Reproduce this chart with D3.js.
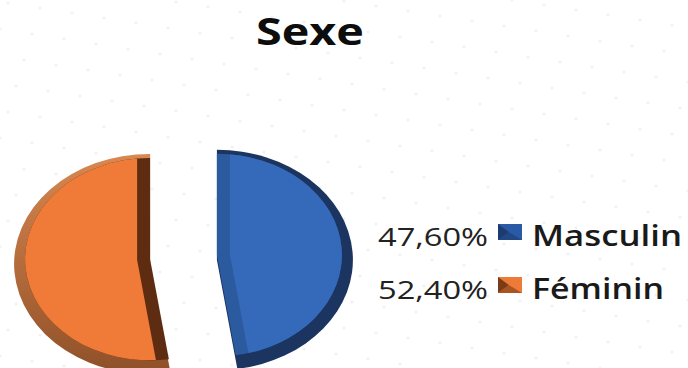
<!DOCTYPE html>
<html><head><meta charset="utf-8">
<script src="https://cdn.jsdelivr.net/npm/d3@7"></script>
<style>html,body{margin:0;padding:0;background:#fff;}svg{display:block;}</style>
</head><body>
<script>
const title = "Sexe";
const categories = ["Masculin", "Féminin"];
const values = [47.6, 52.4];
const valueLabels = ["47,60%", "52,40%"];

const W = 688, H = 368;
const svg = d3.select("body").append("svg").attr("width", W).attr("height", H);

// faint dotted background
const bg = svg.append("g");
for (let i = -10; i < 30; i++) for (let j = -10; j < 25; j++) {
  const x = 8 + i * 32 - j * 8, y = 3 + i * 5 + j * 26;
  if (x > -2 && x < W + 2 && y > -2 && y < H + 2)
    bg.append("circle").attr("cx", x).attr("cy", y).attr("r", 1.6).attr("fill", "#f1f1f3");
}

const defs = svg.append("defs");
const og = defs.append("linearGradient").attr("id", "orim").attr("x1", 0).attr("y1", 0).attr("x2", 0).attr("y2", 1);
og.append("stop").attr("offset", "0%").attr("stop-color", "#d98850");
og.append("stop").attr("offset", "100%").attr("stop-color", "#8f5028");

const styles = [
  {rim: "#1b3560", band: "#2c5a9e", face: "#3569b9", swA: "#2a5aa6", swB: "#1c3c70"},
  {rim: "url(#orim)", band: "#5e2c10", face: "#f07b39", swA: "#ee7a38", swB: "#7a3c16"}
];

const R = 136, k = 0.81, rim = 11, lift = 6, band = 13, explode = 33.5;
const cx = 183.5, cy = 262;
const pie = d3.pie().sort(null).value(d => d);
const arcs = pie(values);

const g = svg.append("g").attr("transform", `translate(${cx},${cy}) scale(1,${k})`);
arcs.forEach((a, i) => {
  const mid = (a.startAngle + a.endAngle) / 2;
  const ox = Math.sin(mid) * explode, oy = -Math.cos(mid) * explode;
  const sg = g.append("g").attr("transform", `translate(${ox},${oy})`);
  const full = d3.arc().innerRadius(0).outerRadius(R)(a);
  const inner = d3.arc().innerRadius(0).outerRadius(R - rim)(a);
  sg.append("path").attr("d", full).attr("fill", styles[i].rim);
  const cid = "clip" + i;
  defs.append("clipPath").attr("id", cid).append("path").attr("d", inner).attr("transform", `translate(0,${-lift})`);
  sg.append("path").attr("d", inner).attr("transform", `translate(0,${-lift})`).attr("fill", styles[i].band);
  const bx = Math.sin(mid) * band, by = -Math.cos(mid) * band;
  sg.append("g").attr("clip-path", `url(#${cid})`)
    .append("path").attr("d", inner).attr("fill", styles[i].face)
    .attr("transform", `translate(${bx},${by - lift})`);
});

// title
svg.append("text").attr("x", 310).attr("y", 45).attr("text-anchor", "middle")
  .attr("font-family", "Open Sans").attr("font-weight", "bold").attr("font-size", 38)
  .attr("fill", "#0d0d0d").attr("textLength", 108).attr("lengthAdjust", "spacingAndGlyphs").text(title);

// legend
const legY = [246, 299];
categories.forEach((c, i) => {
  const y = legY[i];
  svg.append("text").attr("x", 378).attr("y", y)
    .attr("font-family", "Open Sans").attr("font-size", 26).attr("fill", "#222")
    .attr("textLength", 110).attr("lengthAdjust", "spacingAndGlyphs").text(valueLabels[i]);
  const sx = 498, sy = y - 22, sw = 24, sh = 16;
  svg.append("rect").attr("x", sx).attr("y", sy).attr("width", sw).attr("height", sh).attr("fill", styles[i].swA);
  svg.append("polygon").attr("points", `${sx},${sy} ${sx + sw * 0.45},${sy + sh / 2} ${sx},${sy + sh}`).attr("fill", styles[i].swB);
  svg.append("polygon").attr("points", `${sx},${sy + sh} ${sx + sw * 0.45},${sy + sh / 2} ${sx + sw},${sy + sh}`).attr("fill", styles[i].swB).attr("opacity", 0.6);
  svg.append("text").attr("x", 532).attr("y", y)
    .attr("font-family", "Open Sans").attr("font-weight", "600").attr("font-size", 29).attr("fill", "#1a1a1a")
    .attr("textLength", i === 0 ? 150 : 132).attr("lengthAdjust", "spacingAndGlyphs").text(c);
});
</script>
</body></html>
